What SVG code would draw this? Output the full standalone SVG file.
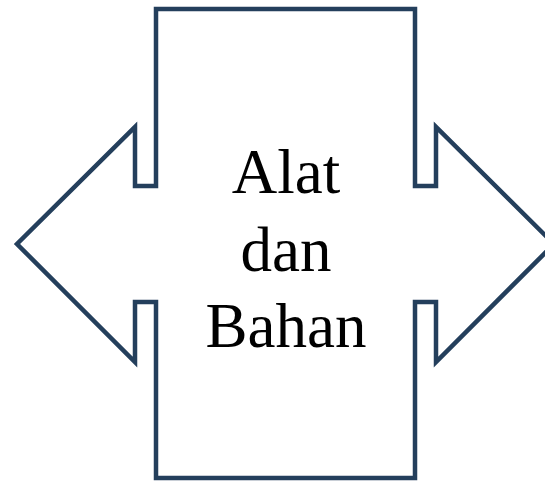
<svg xmlns="http://www.w3.org/2000/svg" width="545" height="481" viewBox="0 0 545 481">
<style>
.shape{fill:#ffffff;stroke:#243f5c;stroke-width:4.5;stroke-linejoin:miter}
.lbl{font-family:"Liberation Serif","Times New Roman",serif;font-size:63px;fill:#000000;text-anchor:middle}
</style>
<rect width="545" height="481" fill="#ffffff"/>
<g id="node-alat-dan-bahan">
<path class="shape" d="M156,9 L415,9 L415,186 L436,186 L436,127 L554,244 L436,362 L436,302 L415,302 L415,478 L156,478 L156,302 L135,302 L135,362 L17,244 L135,127 L135,186 L156,186 Z"/>
<text class="lbl" x="286" y="193">Alat</text>
<text class="lbl" x="286" y="271">dan</text>
<text class="lbl" x="286" y="347">Bahan</text>
</g>
<g id="connectors"></g>
</svg>
